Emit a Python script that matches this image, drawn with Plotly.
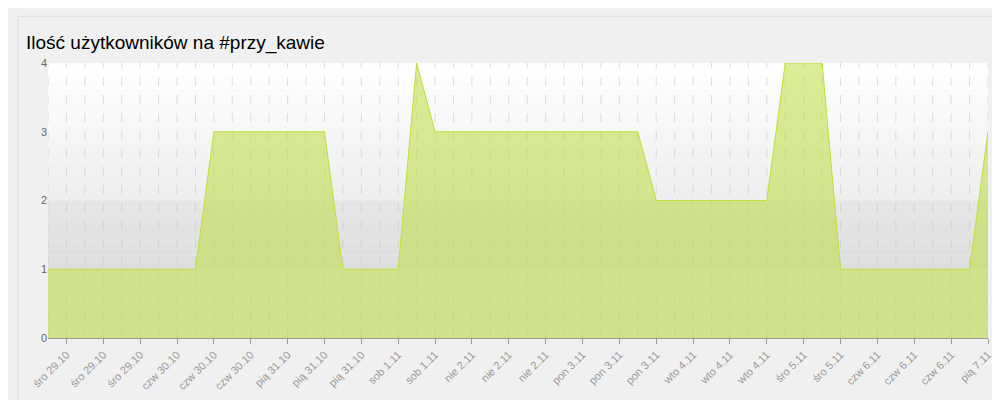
import plotly.graph_objects as go

values = [1]*9 + [3]*7 + [1]*4 + [4] + [3]*12 + [2]*7 + [4]*3 + [1]*8 + [3]
labels = ["śro 29.10"]*3 + ["czw 30.10"]*3 + ["pią 31.10"]*3 + ["sob 1.11"]*2 + ["nie 2.11"]*3 + \
         ["pon 3.11"]*3 + ["wto 4.11"]*3 + ["śro 5.11"]*2 + ["czw 6.11"]*3 + ["pią 7.11"]
x = list(range(len(values)))
tickvals = list(range(1, len(values), 2))

fig = go.Figure()
n = 20
for k in range(n):
    y0 = 2 + 2*k/n; y1 = 2 + 2*(k+1)/n
    g = int(238 + 17*(k+1)/n)
    fig.add_shape(type="rect", xref="x", yref="y", x0=0, x1=51, y0=y0, y1=y1,
                  fillcolor=f"rgb({g},{g},{g})", line_width=0, layer="below")
for k in range(10):
    y0 = 1 + k/10; y1 = 1 + (k+1)/10
    g = int(222 + 8*(k+1)/10)
    fig.add_shape(type="rect", xref="x", yref="y", x0=0, x1=51, y0=y0, y1=y1,
                  fillcolor=f"rgb({g},{g},{g})", line_width=0, layer="below")
fig.add_shape(type="rect", xref="x", yref="y", x0=0, x1=51, y0=0, y1=1,
              fillcolor="#e6e6e6", line_width=0, layer="below")

fig.add_trace(go.Scatter(x=x, y=values, mode="lines", fill="tozeroy",
                         line=dict(color="#bde038", width=1),
                         fillcolor="rgba(190,222,60,0.55)", hoverinfo="skip"))

fig.update_layout(
    width=1000, height=400, margin=dict(l=40, r=20, t=55, b=70),
    paper_bgcolor="#f0f0f0", plot_bgcolor="#f0f0f0", showlegend=False,
    title=dict(text="Ilość użytkowników na #przy_kawie", x=0.018, y=0.93,
               font=dict(family="Liberation Sans, Arial", size=19, color="#000")),
    font=dict(family="Liberation Sans, Arial", size=11, color="#999"),
    xaxis=dict(range=[0, 51], tickvals=tickvals, ticktext=labels[:len(tickvals)],
               tickangle=-45, showgrid=False, ticks="outside", ticklen=5, tickcolor="#999",
               showline=True, linecolor="#999", zeroline=False),
    yaxis=dict(range=[0, 4], dtick=1, showgrid=False, zeroline=False, ticks="",
               tickfont=dict(color="#666")),
)
for i in x:
    fig.add_shape(type="line", xref="x", yref="y", x0=i, x1=i, y0=0, y1=4,
                  line=dict(color="rgba(200,200,200,0.6)", width=1, dash="dash"), layer="below")
fig.add_annotation(text="PIRC.pl", xref="paper", yref="paper", x=-0.025, y=-0.27,
                   showarrow=False, xanchor="left", font=dict(size=11, color="#000"))
fig.add_shape(type="rect", xref="paper", yref="paper", x0=-0.032, x1=1.012, y0=-0.3, y1=1.17,
              line=dict(color="#ddd", width=1))
fig.write_html("out.html")
